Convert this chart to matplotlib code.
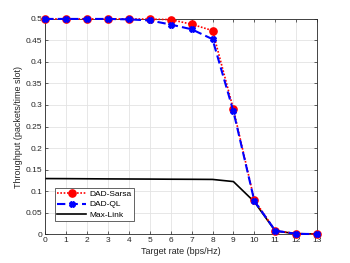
import matplotlib
matplotlib.use('Agg')
import matplotlib.pyplot as plt

rates = list(range(14))
sarsa = [0.5, 0.5, 0.5, 0.5, 0.5, 0.4995, 0.4985, 0.4877, 0.473, 0.29, 0.079, 0.008, 0.001, 0.0]
ql = [0.5, 0.5, 0.5, 0.5, 0.499, 0.4965, 0.487, 0.476, 0.453, 0.285, 0.077, 0.008, 0.0005, 0.0]
maxlink = [0.129, 0.1288, 0.1285, 0.1282, 0.128, 0.1278, 0.1275, 0.1273, 0.127, 0.122, 0.075, 0.007, 0.001, 0.0]

plt.rcParams['font.family'] = ['Liberation Sans', 'DejaVu Sans']
plt.rcParams['font.size'] = 6

fig = plt.figure(figsize=(3.5, 2.63), dpi=100)
ax = fig.add_axes([0.129, 0.110, 0.777, 0.818])

# sarsa underneath, QL crosses drawn on top like the original
ax.plot(rates, sarsa, color='red', linestyle=(0, (1, 1)), linewidth=1.2,
        marker='o', markersize=5.2, label='DAD-Sarsa', zorder=3, clip_on=False)
ax.plot(rates, ql, color='blue', linestyle=(0, (4, 2)), linewidth=1.5,
        marker='X', markersize=4.3, label='DAD-QL', zorder=4, clip_on=False)
ax.plot(rates, maxlink, color='black', linestyle='-', linewidth=1.2,
        label='Max-Link', zorder=2)

ax.set_xlim(0, 13)
ax.set_ylim(0, 0.5)
ax.set_xticks(range(14))
ax.set_yticks([i * 0.05 for i in range(11)])
ax.set_yticklabels(['0', '0.05', '0.1', '0.15', '0.2', '0.25', '0.3',
                    '0.35', '0.4', '0.45', '0.5'])
ax.grid(True, color='#e3e3e3', linewidth=0.6)
ax.set_axisbelow(True)
ax.tick_params(direction='in', length=2.5, width=0.5, colors='#262626',
               top=True, right=True, labelsize=6, pad=2)
for s in ax.spines.values():
    s.set_linewidth(0.6)
    s.set_color('#262626')

ax.set_xlabel('Target rate (bps/Hz)', fontsize=6.5, labelpad=2, color='#262626')
ax.set_ylabel('Throughput (packets/time slot)', fontsize=6.5, labelpad=2, color='#262626')

leg = ax.legend(loc='lower left', bbox_to_anchor=(0.02, 0.04), fontsize=6,
                fancybox=False, edgecolor='#262626', framealpha=1,
                handlelength=3.5, borderpad=0.3, labelspacing=0.3,
                handletextpad=0.3)
leg.get_frame().set_linewidth(0.5)

fig.savefig('out.png', dpi=100)
